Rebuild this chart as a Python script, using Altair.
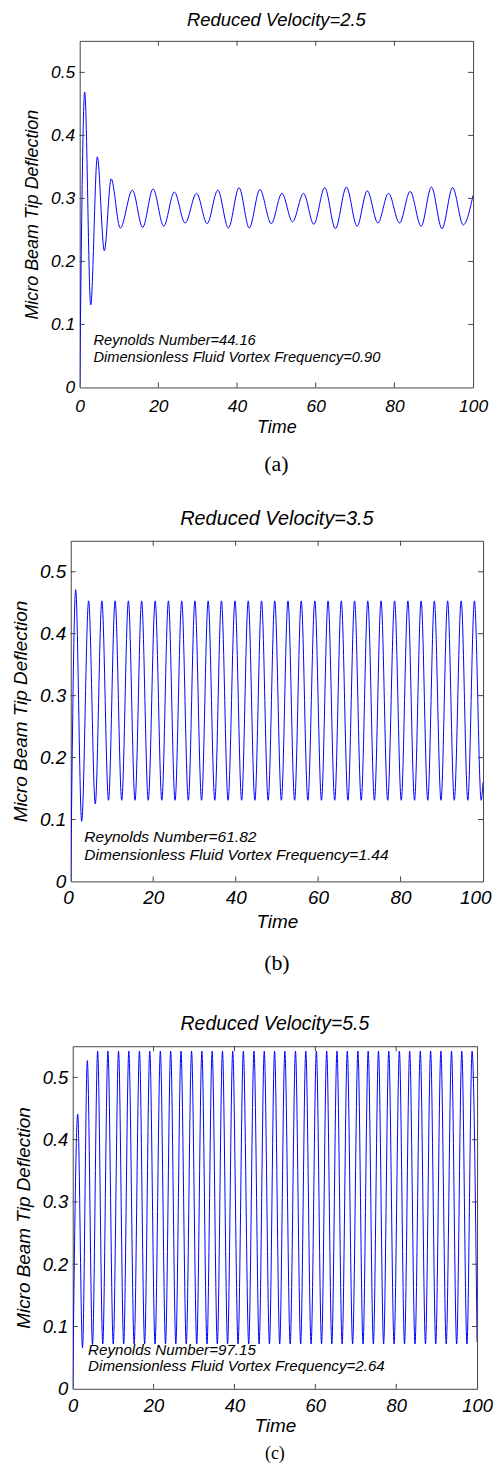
import altair as alt
import pandas as pd

FONT = "Liberation Sans"
SERIF = "Liberation Serif"
BLUE = "#0000ff"
FRAME = "#444444"

x_ticks = [0, 20, 40, 60, 80, 100]
y_ticks = [0, 0.1, 0.2, 0.3, 0.4, 0.5]

# ---------------- Panel (a): Reduced Velocity = 2.5 ----------------
a_t = [0, 1.27, 2.8, 4.48, 6.25, 8.0, 10.3, 13.4, 16.0, 18.65, 21.35, 24.05,
       26.8, 29.7, 32.4, 35.1, 37.8, 40.5, 43.1, 45.8, 48.7, 51.4, 54.1, 56.9,
       59.5, 62.3, 65.0, 67.8, 70.5, 73.1, 75.8, 78.5, 81.3, 84.0, 86.8, 89.4,
       92.1, 94.8, 97.5, 100]
a_v = [0.0, 0.469, 0.131, 0.366, 0.217, 0.331, 0.253, 0.313, 0.254, 0.315,
       0.256, 0.310, 0.261, 0.308, 0.260, 0.313, 0.253, 0.317, 0.253, 0.314,
       0.260, 0.308, 0.263, 0.308, 0.259, 0.317, 0.252, 0.318, 0.256, 0.312,
       0.261, 0.308, 0.261, 0.311, 0.256, 0.318, 0.252, 0.317, 0.258, 0.305]

# ---------------- Panel (b): Reduced Velocity = 3.5 ----------------
b_peak_t = [1.2, 4.34, 7.55, 10.76, 13.98, 17.19, 20.48, 23.69, 26.91, 30.12,
            33.33, 36.55, 39.84, 43.05, 46.27, 49.48, 52.69, 55.90, 59.20,
            62.41, 65.62, 68.84, 72.05, 75.26, 78.55, 81.77, 84.98, 88.19,
            91.41, 94.70, 97.91]
b_peak_v = [0.471, 0.453, 0.453, 0.453, 0.453, 0.453, 0.453, 0.453, 0.453,
            0.453, 0.453, 0.453, 0.453, 0.453, 0.453, 0.453, 0.453, 0.453,
            0.453, 0.453, 0.453, 0.453, 0.453, 0.453, 0.453, 0.453, 0.453,
            0.453, 0.453, 0.453, 0.453]
b_trough_t = [0, 2.65, 5.95, 9.16, 12.37, 15.59, 18.80, 22.09, 25.30, 28.52,
              31.73, 34.94, 38.16, 41.45, 44.66, 47.88, 51.09, 54.30, 57.51,
              60.81, 64.02, 67.23, 70.45, 73.66, 76.87, 80.16, 83.38, 86.59,
              89.80, 93.02, 96.31, 99.55, 100]
b_trough_v = [0.0, 0.097, 0.125, 0.131, 0.131, 0.131, 0.131, 0.131, 0.131,
              0.131, 0.131, 0.131, 0.131, 0.131, 0.131, 0.131, 0.131, 0.131,
              0.131, 0.131, 0.131, 0.131, 0.131, 0.131, 0.131, 0.131, 0.131,
              0.131, 0.131, 0.131, 0.131, 0.131, 0.16]

# ---------------- Panel (c): Reduced Velocity = 5.5 ----------------
c_peak_t = [1.23, 3.61, 6.16, 8.70, 11.33, 13.87, 16.50, 19.05, 21.67, 24.22,
            26.77, 29.39, 31.94, 34.48, 37.03, 39.57, 42.20, 44.83, 47.37,
            49.92, 52.46, 55.09, 57.64, 60.26, 62.81, 65.35, 67.90, 70.53,
            73.07, 75.62, 78.16, 80.79, 83.33, 85.96, 88.51, 91.05, 93.68,
            96.22, 98.77]
c_peak_v = [0.441, 0.527, 0.542, 0.542, 0.542, 0.542, 0.542, 0.542, 0.542,
            0.542, 0.542, 0.542, 0.542, 0.542, 0.542, 0.542, 0.542, 0.542,
            0.542, 0.542, 0.542, 0.542, 0.542, 0.542, 0.542, 0.542, 0.542,
            0.542, 0.542, 0.542, 0.542, 0.542, 0.542, 0.542, 0.542, 0.542,
            0.542, 0.542, 0.542]
c_trough_t = [0, 2.42, 4.89, 7.43, 10.02, 12.60, 15.19, 17.78, 20.36, 22.95,
              25.50, 28.08, 30.67, 33.21, 35.76, 38.30, 40.89, 43.52, 46.10,
              48.65, 51.19, 53.78, 56.37, 58.95, 61.54, 64.08, 66.63, 69.22,
              71.80, 74.35, 76.89, 79.48, 82.06, 84.65, 87.24, 89.78, 92.37,
              94.95, 97.50, 100]
c_trough_v = [0.0, 0.066, 0.071, 0.072, 0.072, 0.072, 0.072, 0.072, 0.072,
              0.072, 0.072, 0.072, 0.072, 0.072, 0.072, 0.072, 0.072, 0.072,
              0.072, 0.072, 0.072, 0.072, 0.072, 0.072, 0.072, 0.072, 0.072,
              0.072, 0.072, 0.072, 0.072, 0.072, 0.072, 0.072, 0.072, 0.072,
              0.072, 0.072, 0.072, 0.075]

titles = ["Reduced Velocity=2.5", "Reduced Velocity=3.5", "Reduced Velocity=5.5"]
captions = ["(a)", "(b)", "(c)"]
ann_line1 = ["Reynolds Number=44.16", "Reynolds Number=61.82", "Reynolds Number=97.15"]
ann_line2 = ["Dimensionless Fluid Vortex Frequency=0.90",
             "Dimensionless Fluid Vortex Frequency=1.44",
             "Dimensionless Fluid Vortex Frequency=2.64"]
ann_t = [3.5, 3.3, 3.8]
ann_v1 = [0.074, 0.072, 0.063]
ann_v2 = [0.047, 0.043, 0.036]


def merged(pt, pv, tt, tv):
    df = pd.DataFrame({"t": list(pt) + list(tt), "v": list(pv) + list(tv)})
    return df.sort_values("t").reset_index(drop=True)


def panel(i, df, W, H, fs_title, fs_lab, fs_axt, fs_ann, lab_pad_x, tp_x,
          tp_y, title_off, cap_off, cap_fs, flush=False):
    xs = alt.Scale(domain=[0, 100], nice=False, zero=False)
    ys = alt.Scale(domain=[0, 0.55], nice=False, zero=False)
    common = dict(ticks=False, domain=False, grid=False, labelFont=FONT,
                  labelFontStyle="italic", labelColor="black",
                  titleFont=FONT, titleFontStyle="italic",
                  titleFontWeight="normal", titleColor="black",
                  labelFontSize=fs_lab, titleFontSize=fs_axt)
    flush_opts = dict(labelFlush=True, labelFlushOffset=8) if flush else dict(labelFlush=False)
    xaxis = alt.Axis(values=x_ticks, format="d", title="Time",
                     labelOverlap=False, labelPadding=lab_pad_x,
                     titlePadding=tp_x, **flush_opts, **common)
    yaxis = alt.Axis(values=y_ticks, format="~g",
                     title="Micro Beam Tip Deflection", labelOverlap=False,
                     labelPadding=5, titlePadding=tp_y, **common)
    X = lambda f: alt.X(f, type="quantitative", scale=xs, axis=xaxis, title="Time")
    Y = lambda f: alt.Y(f, type="quantitative", scale=ys, axis=yaxis,
                        title="Micro Beam Tip Deflection")

    line = alt.Chart(df).mark_line(color=BLUE, strokeWidth=1,
                                   interpolate="monotone", clip=True).encode(
        x=X("t"), y=Y("v"))

    xt = pd.DataFrame({"t": x_ticks[1:-1]})
    yt = pd.DataFrame({"v": y_ticks[1:]})
    tb = alt.Chart(xt).mark_rule(color=FRAME, strokeWidth=1).encode(
        x=X("t"), y=alt.value(H), y2=alt.value(H - 5))
    tt = alt.Chart(xt).mark_rule(color=FRAME, strokeWidth=1).encode(
        x=X("t"), y=alt.value(0), y2=alt.value(5))
    tl = alt.Chart(yt).mark_rule(color=FRAME, strokeWidth=1).encode(
        y=Y("v"), x=alt.value(0), x2=alt.value(5))
    tr = alt.Chart(yt).mark_rule(color=FRAME, strokeWidth=1).encode(
        y=Y("v"), x=alt.value(W), x2=alt.value(W - 5))

    ann_df = pd.DataFrame({"t": [ann_t[i], ann_t[i]],
                           "v": [ann_v1[i], ann_v2[i]],
                           "label": [ann_line1[i], ann_line2[i]]})
    ann = alt.Chart(ann_df).mark_text(align="left", baseline="middle",
                                      font=FONT, fontStyle="italic",
                                      fontSize=fs_ann, color="black").encode(
        x=X("t"), y=Y("v"), text="label:N")

    cap = alt.Chart(pd.DataFrame({"c": [captions[i]]})).mark_text(
        font=SERIF, fontSize=cap_fs, align="center", baseline="middle",
        color="black").encode(text="c:N", x=alt.value(W / 2),
                              y=alt.value(H + cap_off))

    return alt.layer(line, tb, tt, tl, tr, ann, cap).properties(
        width=W, height=H,
        title=alt.TitleParams(titles[i], font=FONT, fontSize=fs_title,
                              fontStyle="italic", fontWeight="normal",
                              color="black", offset=title_off,
                              anchor="middle"))


def spacer(w):
    return alt.Chart(pd.DataFrame({"s": [0]})).mark_text(text="").encode(
        x=alt.value(0), y=alt.value(0)).properties(
        width=w, height=10, view=alt.ViewBackground(stroke="transparent"))


df_a = pd.DataFrame({"t": a_t, "v": a_v})
df_b = merged(b_peak_t, b_peak_v, b_trough_t, b_trough_v)
df_c = merged(c_peak_t, c_peak_v, c_trough_t, c_trough_v)

pa = panel(0, df_a, 395, 348, 18.5, 17.5, 18, 14.7, 9.7, 4, 9, 11, 77, 22)
pb = panel(1, df_b, 414, 342, 20, 19, 19, 15.6, 7, 5, 9, 11, 82, 22, flush=True)
pc = panel(2, df_c, 406, 344, 19.5, 18.5, 19, 15.2, 7.6, 2, 9, 11, 65.5, 18)

row_a = alt.hconcat(spacer(13), pa, spacing=0)
row_b = alt.hconcat(spacer(1), pb, spacing=0)
row_c = alt.hconcat(spacer(3), pc, spacing=0)

chart = alt.vconcat(
    alt.vconcat(row_a, row_b, spacing=33),
    row_c, spacing=38.5
).properties(
    padding={"top": -1, "left": 0, "right": 0, "bottom": 0},
    background="white"
).configure_view(stroke=FRAME, strokeWidth=1)

chart.save("out.html", embed_options={"renderer": "svg", "actions": False})
